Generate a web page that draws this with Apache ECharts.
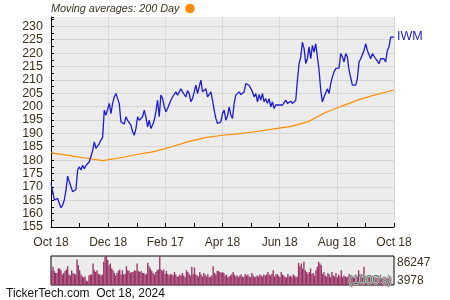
<!DOCTYPE html>
<html><head><meta charset="utf-8">
<script src="https://cdn.jsdelivr.net/npm/echarts@6/dist/echarts.min.js"></script>
<style>html,body{margin:0;padding:0;background:#fff}#c{width:450px;height:300px}</style>
</head><body><div id="c"></div>
<script>
var xLabels = ['Oct 18','Dec 18','Feb 17','Apr 18','Jun 18','Aug 18','Oct 18'];
var priceIWM = [
171.3,168.2,165.1,164.4,165.7,163.8,162.2,163.2,165.1,168.8,174.0,171.9,171.3,168.2,168.8,169.0,176.3,177.5,176.3,178.1,176.8,178.0,178.5,179.4,179.6,183.5,
186.8,184.4,183.7,186.2,187.5,188.5,198.7,196.8,196.8,201.2,197.4,201.2,203.6,204.9,203.0,201.2,194.3,193.9,193.5,196.2,194.9,194.3,193.1,190.6,189.3,191.8,196.2,194.9,194.3,196.2,198.7,196.2,192.4,194.9,191.8,193.1,194.9,198.1,202.4,196.2,204.3,203.0,200.0,
198.1,199.3,200.0,202.4,203.6,203.0,205.5,204.3,203.6,206.7,205.5,205.0,203.6,206.0,204.9,201.8,203.0,205.5,208.0,204.9,205.5,209.9,205.5,205.0,206.7,203.6,204.3,205.5,202.4,198.7,195.6,193.7,193.1,194.3,197.4,198.7,
194.9,196.5,199.9,196.8,195.6,201.2,204.3,204.3,205.5,204.5,204.9,205.5,208.6,208.0,208.0,207.4,205.5,203.6,204.9,201.8,204.5,202.4,204.9,201.8,203.0,201.2,203.0,199.9,201.8,199.3,200.6,200.0,200.6,201.2,200.6,200.6,
202.4,201.2,200.6,202.0,201.2,201.8,202.4,209.9,216.1,218.6,224.1,221.7,216.1,218.0,222.3,217.9,222.9,220.4,223.5,222.9,213.6,206.1,201.8,203.6,203.4,206.7,204.9,208.6,211.1,213.0,214.2,213.6,214.5,
219.8,218.6,216.7,219.8,218.6,213.6,213.0,208.0,208.5,208.0,210.5,216.7,217.9,218.6,221.0,223.5,221.0,221.0,217.9,219.8,220.4,217.9,217.3,216.1,217.9,217.3,217.9,216.7,221.0,222.3,226.0,226.4,226.0
];
var ma200 = [182.7,181.8,180.8,179.8,180.8,182.1,183.2,184.9,186.9,188.4,189.3,189.9,190.7,191.7,192.6,194.4,197.8,200.3,202.7,204.6,206.2];
var volumeK = [
42,54,42,36,36,49,49,44,31,36,42,46,56,31,28,44,36,33,31,76,59,44,31,25,23,25,13,11,28,31,31,64,44,39,44,33,31,28,31,69,84,86,74,59,64,49,44,36,28,36,42,46,31,44,31,33,56,44,42,36,39,39,44,42,64,42,39,42,36,36,31,33,66,56,49,42,36,31,39,44,46,86,46,42,46,33,42,33,28,33,31,28,39,31,25,25,31,28,36,28,23,44,39,33,28,54,33,52,31,28,25,39,31,25,36,31,25,33,23,25,28,56,36,31,42,42,39,36,39,36,
28,31,23,25,28,33,39,31,25,28,23,28,31,25,23,33,28,31,25,23,36,28,23,25,28,25,31,28,25,31,28,31,39,31,28,33,44,25,31,33,28,23,39,31,28,23,23,33,25,28,23,31,28,23,25,66,56,64,49,69,44,39,33,39,49,33,36,28,44,54,69,64,59,33,39,28,25,36,31,23,39,28,25,36,23,31,25,44,23,28,25,23,25,33,25,28,23,28,31,25,44,31,33,23,54,28,25,23,25,21,28,23,25,21,23,28,23,21,23,25,23,23,21,23,25,1,4
];
var volMaxLabel = '86247', volMinLabel = '3978';

var N = priceIWM.length;
var SPAN = 366;
var priceData = priceIWM.map(function(v,i){return [i*SPAN/(N-1), v];});
var maData = ma200.map(function(v,i){return [i*SPAN/(ma200.length-1), v];});
var volCats = volumeK.map(function(v,i){return i;});
var txt = '#3b3220';
var chart = echarts.init(document.getElementById('c'), null, {renderer:'canvas'});
chart.setOption({
  animation:false,
  backgroundColor:'#ffffff',
  grid:[
    {left:51,right:56,top:17,bottom:73,show:true,backgroundColor:'#ececec',borderWidth:0},
    {left:51,right:56,top:256,height:29,show:true,backgroundColor:'#ececec',borderColor:'#000',borderWidth:1}
  ],
  xAxis:[
    {type:'value',gridIndex:0,min:0,max:SPAN,interval:61,
     axisLine:{show:true,lineStyle:{color:'#000',width:1}},
     axisTick:{show:true,inside:true,length:4,lineStyle:{color:'#000'}},
     minorTick:{show:true,splitNumber:2,length:4,lineStyle:{color:'#000'}},
     splitLine:{show:true,showMinLine:false,lineStyle:{color:'#d6d6d6',width:1}},
     axisLabel:{color:txt,fontSize:12,fontFamily:'Liberation Sans, Arial',margin:10,
       formatter:function(v){return xLabels[Math.round(v/61)]||'';}}},
    {type:'category',gridIndex:1,data:volCats,boundaryGap:true,
     axisLine:{show:false},axisTick:{show:false},axisLabel:{show:false},splitLine:{show:false}}
  ],
  yAxis:[
    {type:'value',gridIndex:0,min:155,max:233.5,interval:5,
     axisLine:{show:true,lineStyle:{color:'#000',width:1}},
     axisTick:{show:true,inside:true,length:3,lineStyle:{color:'#000'}},
     minorTick:{show:true,splitNumber:2,length:3,lineStyle:{color:'#000'}},
     splitLine:{show:true,showMaxLine:false,showMinLine:false,lineStyle:{color:'#d6d6d6',width:1}},
     axisLabel:{color:txt,fontSize:12.5,fontFamily:'Liberation Sans, Arial',margin:8,showMaxLabel:false,
       formatter:function(v){return (Math.abs(v%5)<0.001)?String(v):'';}}},
    {type:'value',gridIndex:1,min:0,max:86.247,
     axisLine:{show:false},axisTick:{show:false},axisLabel:{show:false},splitLine:{show:false}}
  ],
  series:[
    {type:'line',xAxisIndex:0,yAxisIndex:0,data:maData,showSymbol:false,smooth:false,
     lineStyle:{color:'#ff8c00',width:1.2},z:3},
    {type:'line',xAxisIndex:0,yAxisIndex:0,data:priceData,showSymbol:false,
     lineStyle:{color:'#1c1cd8',width:1.3},z:4},
    {type:'bar',xAxisIndex:1,yAxisIndex:1,data:volumeK,barCategoryGap:'0%',
     itemStyle:{color:'#993366'},z:2}
  ],
  graphic:[
    {type:'text',left:51,top:3,style:{text:'Moving averages: 200 Day',fill:'#3b3220',font:'italic 10.8px "Liberation Sans", Arial'}},
    {type:'circle',shape:{cx:190,cy:8.5,r:4.8},style:{fill:'#ff8c00'}},
    {type:'text',left:397,top:30,style:{text:'IWM',fill:'#2020cc',font:'12.5px "Liberation Sans", Arial'}},
    {type:'text',left:397,top:257,style:{text:volMaxLabel,fill:txt,font:'12px "Liberation Sans", Arial'}},
    {type:'text',left:397,top:275,style:{text:volMinLabel,fill:txt,font:'12px "Liberation Sans", Arial'}},
    {type:'text',left:348,top:274,z:100,style:{text:"(1000's)",fill:'#4d7563',font:'12px "Liberation Sans", Arial',stroke:'#d8e0d8',lineWidth:1}},
    {type:'text',left:6,top:288,style:{text:'TickerTech.com  Oct 18, 2024',fill:'#111',font:'12px "Liberation Sans", Arial'}}
  ]
});
</script></body></html>
